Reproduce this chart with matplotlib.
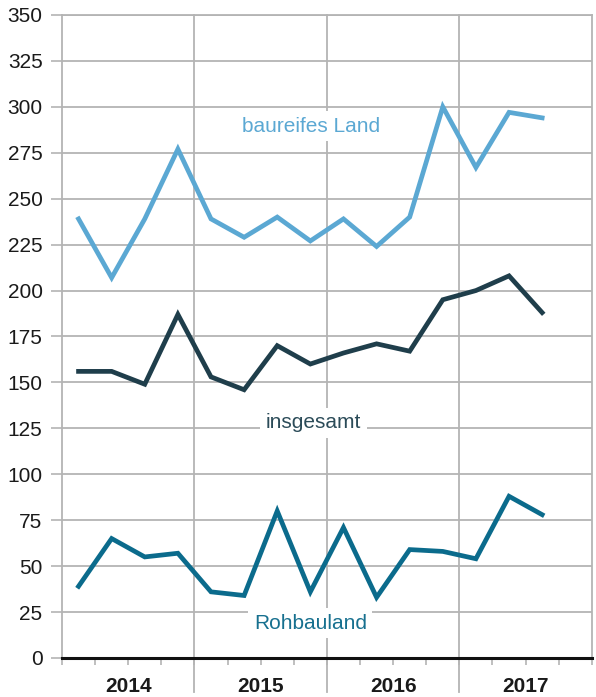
import matplotlib
matplotlib.use("Agg")
import matplotlib.pyplot as plt
import numpy as np

plt.rcParams['font.family'] = ['Liberation Sans', 'DejaVu Sans']

# quarterly values 2014 Q1 .. 2017 Q3
years = ['2014', '2015', '2016', '2017']
baureif = [239, 207, 239, 277, 239, 229, 240, 227, 239, 224, 240, 300, 267, 297, 294]
insgesamt = [156, 156, 149, 187, 153, 146, 170, 160, 166, 171, 167, 195, 200, 208, 188]
rohbau = [39, 65, 55, 57, 36, 34, 80, 36, 71, 33, 59, 58, 54, 88, 78]

c_bau = '#5BA8D3'
c_ins = '#1F3E4B'
c_roh = '#0B6B8C'
grid_c = '#b4b4b4'

fig = plt.figure(figsize=(5.96, 6.97), dpi=100)
ax = fig.add_axes([0.104, 0.056, 0.889, 0.9225])

x = np.arange(len(baureif)) + 0.5
ax.plot(x, baureif, color=c_bau, lw=3.4, solid_joinstyle='miter', zorder=3)
ax.plot(x, insgesamt, color=c_ins, lw=3.4, solid_joinstyle='miter', zorder=3)
ax.plot(x, rohbau, color=c_roh, lw=3.4, solid_joinstyle='miter', zorder=3)

ax.set_xlim(0, 16)
ax.set_ylim(0, 350)
ax.set_yticks(np.arange(0, 351, 25))
ax.tick_params(axis='y', length=8, width=1.2, color=grid_c, pad=6, labelsize=15,
               labelcolor='#1a1a1a')
ax.grid(axis='y', color=grid_c, lw=1.3, zorder=0)

# quarter ticks, year labels centred below
ax.set_xticks(np.arange(0, 17, 1))
ax.set_xticklabels([])
ax.tick_params(axis='x', length=5, width=1.2, color=grid_c, direction='out')
for i, yr in enumerate(years):
    ax.text(i * 4 + 2, -0.0535, yr, transform=ax.get_xaxis_transform(),
            ha='center', va='baseline', fontsize=15, fontweight='bold', color='#1a1a1a')
for xv in [4, 8, 12]:
    ax.axvline(xv, ymin=-0.053, ymax=1, color=grid_c, lw=1.3, clip_on=False, zorder=1)

for s in ['left', 'right', 'top']:
    ax.spines[s].set_color(grid_c)
    ax.spines[s].set_linewidth(1.3)
ax.spines['bottom'].set_color('#111111')
ax.spines['bottom'].set_linewidth(2.2)
ax.spines['bottom'].set_zorder(4)

box = dict(facecolor='white', edgecolor='none', pad=4)
ax.text(7.52, 289.5, 'baureifes Land', color=c_bau, fontsize=15, ha='center',
        va='center', bbox=box, zorder=2)
ax.text(7.6, 128, 'insgesamt', color='#2B4B58', fontsize=15, ha='center',
        va='center', bbox=box, zorder=2)
ax.text(7.5, 19, 'Rohbauland', color='#17708F', fontsize=15, ha='center',
        va='center', bbox=box, zorder=2)

fig.savefig('out.png', dpi=100)
